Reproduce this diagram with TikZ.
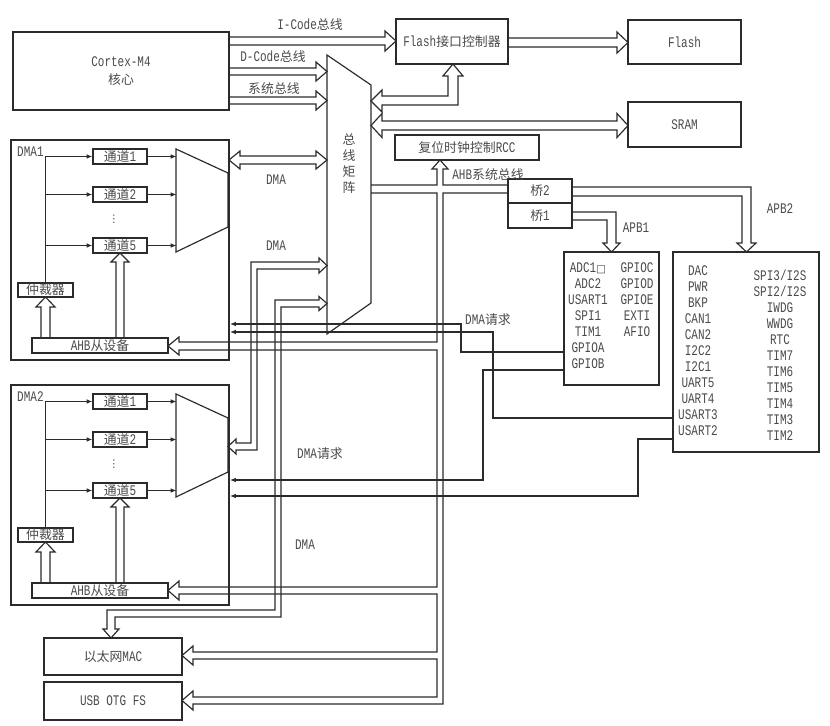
\documentclass[tikz,border=0pt]{standalone}
\usepackage{fontspec}
\setmainfont{Liberation Mono}[FakeStretch=0.75]
\newfontfamily\zh{Noto Sans CJK SC}
\newfontfamily\dv{DejaVu Sans}
\usetikzlibrary{arrows.meta}
\definecolor{lc}{HTML}{2B2B2B}
\definecolor{tc}{HTML}{4A4A4A}
\newcommand\z[1]{{\zh\fontsize{11}{13}\selectfont #1}}
\newcommand\rbox[6]{\node[box, minimum width={(#4-#2)*0.03cm}, minimum height={(#5-#3)*0.03cm}] (#1) at ({(#2+#4)/2},{(#3+#5)/2}) {#6};}
\begin{document}
\begin{tikzpicture}[x=0.03cm,y=-0.03cm,
 every node/.style={font=\fontsize{12.5}{13}\selectfont, text=tc},
 box/.style={draw=lc, line width=1pt, inner sep=0pt, align=center},
 bus/.style={draw=lc, line width=1pt, line join=miter},
 req/.style={draw=lc, line width=1pt, -{Latex[length=5pt,width=4pt]}},
 lbl/.style={inner sep=0pt},
 col/.style={inner sep=0pt, align=center, font=\fontsize{12.5}{13.66}\selectfont}]
\useasboundingbox (0,0) rectangle (830,726);

% ---------- main boxes ----------
\rbox{cortex}{13}{32}{229}{110}{Cortex-M4\\[3pt]\z{核心}}
\rbox{fic}{396}{19}{508}{64}{Flash\z{接口控制器}}
\rbox{flash}{628}{20}{741}{64}{Flash}
\rbox{sram}{628}{102}{741}{147}{SRAM}
\rbox{rcc}{395}{135}{539}{160}{\z{复位时钟控制}RCC}
\rbox{brtwo}{508}{179}{572}{203}{\z{桥}2}
\rbox{brone}{508}{203}{572}{228}{\z{桥}1}
\rbox{apbonebox}{564}{252}{659}{385}{}
\rbox{apbtwobox}{673}{252}{819}{452}{}
\rbox{mac}{44}{638}{182}{675}{\z{以太网}MAC}
\rbox{usb}{44}{682}{182}{720}{USB OTG FS}

% bus matrix
\draw[bus] (327,55) -- (371,85) -- (371,303) -- (327,334) -- cycle;
\node[col, font=\zh\fontsize{11}{13.66}\selectfont] (mtxt) at (349,164) {总\\线\\矩\\阵};

% ---------- peripheral lists ----------
\node[col] (aonel) at (588,316) {ADC1{\dv\fontsize{9}{9}\selectfont □}\\ADC2\\USART1\\SPI1\\TIM1\\GPIOA\\GPIOB};
\node[col] (aoner) at (637,300) {GPIOC\\GPIOD\\GPIOE\\EXTI\\AFIO};
\node[col] (atwol) at (698,351) {DAC\\PWR\\BKP\\CAN1\\CAN2\\I2C2\\I2C1\\UART5\\UART4\\USART3\\USART2};
\node[col] (atwor) at (780,355.5) {SPI3/I2S\\SPI2/I2S\\IWDG\\WWDG\\RTC\\TIM7\\TIM6\\TIM5\\TIM4\\TIM3\\TIM2};

% ---------- DMA controllers ----------
\foreach \o/\n in {0/1,245/2}{
 \begin{scope}[shift={(0,\o)}]
  \rbox{dma\n}{11}{140}{229}{360}{}
  \node[lbl, anchor=west] (dl\n) at (17,152) {DMA\n};
  \rbox{chA\n}{93}{149}{147}{164}{\z{通道}1}
  \rbox{chB\n}{93}{187}{147}{202}{\z{通道}2}
  \rbox{chC\n}{93}{238}{147}{253}{\z{通道}5}
  \node[lbl, font=\dv\fontsize{9}{9}\selectfont] (dots\n) at (114,219) {⋮};
  \rbox{arb\n}{18}{283}{73}{297}{\z{仲裁器}}
  \rbox{ahb\n}{32}{338}{168}{353}{AHB\z{从设备}}
  \draw[bus] (176,149) -- (228,173) -- (228,227) -- (176,252) -- cycle;
  \draw[req] (arb\n.north) |- (chA\n.west);
  \draw[req] (arb\n.north |- chB\n.west) -- (chB\n.west);
  \draw[req] (arb\n.north |- chC\n.west) -- (chC\n.west);
  \draw[req] (chA\n.east) -- ++(29,0);
  \draw[req] (chB\n.east) -- ++(29,0);
  \draw[req] (chC\n.east) -- ++(29,0);
  \draw[bus] (41,338) -- (41,307) -- (36,307) -- (45.5,297) -- (55,307) -- (50,307) -- (50,338);
  \draw[bus] (116,338) -- (116,262) -- (111,262) -- (120,253) -- (129,262) -- (124,262) -- (124,338);
 \end{scope}
}

% ---------- buses from the core ----------
\draw[bus] (229,37) -- (385,37) -- (385,31) -- (396,41) -- (385,51) -- (385,45) -- (229,45);
\draw[bus] (229,68) -- (316,68) -- (316,62) -- (327,71.5) -- (316,81) -- (316,75) -- (229,75);
\draw[bus] (229,97) -- (316,97) -- (316,91) -- (327,100.5) -- (316,110) -- (316,104) -- (229,104);
\node[lbl] (licode) at (310,25) {I-Code\z{总线}};
\node[lbl] (ldcode) at (273,57) {D-Code\z{总线}};
\node[lbl] (lsys) at (274,89) {\z{系统总线}};

% flash controller -> flash
\draw[bus] (508,38) -- (617,38) -- (617,32) -- (628,42.5) -- (617,53) -- (617,47) -- (508,47);
% matrix <-> flash controller
\draw[bus] (371,101) -- (382,90) -- (382,96) -- (448,96) -- (448,76) -- (443,76) -- (453,64) -- (463,76) -- (458,76) -- (458,105) -- (382,105) -- (382,112) -- cycle;
% matrix <-> SRAM
\draw[bus] (371,125.5) -- (382,113.5) -- (382,121) -- (617,121) -- (617,113.5) -- (628,125.5) -- (617,137.5) -- (617,130) -- (382,130) -- (382,137.5) -- cycle;

% DMA1 <-> matrix
\draw[bus] (229,160) -- (240,151) -- (240,156) -- (316,156) -- (316,151) -- (327,160) -- (316,169) -- (316,164) -- (240,164) -- (240,169) -- cycle;
% DMA2 <-> matrix
\draw[bus] (327,265.5) -- (319,258) -- (319,262) -- (251,262) -- (251,443) -- (236,443) -- (236,439) -- (228,446.5) -- (236,454) -- (236,450) -- (257,450) -- (257,269) -- (319,269) -- (319,273) -- cycle;
% MAC <-> matrix
\draw[bus] (327,303.5) -- (319,296.5) -- (319,300) -- (275,300) -- (275,610) -- (107,610) -- (107,629) -- (103,629) -- (111,638) -- (119,629) -- (115,629) -- (115,617) -- (281,617) -- (281,307) -- (319,307) -- (319,310.5) -- cycle;
\node[lbl] (ldmaa) at (276,180) {DMA};
\node[lbl] (ldmab) at (276,246) {DMA};
\node[lbl] (ldmac) at (305,545) {DMA};

% AHB system bus
\draw[bus] (371,185) -- (437,185) -- (437,169) -- (432,169) -- (440,160) -- (448,169) -- (443,169) -- (443,185) -- (508,185);
\draw[bus] (371,193) -- (437,193) -- (437,342) -- (179,342) -- (179,337) -- (168,346) -- (179,355) -- (179,350) -- (437,350) -- (437,587) -- (179,587) -- (179,581) -- (168,590.5) -- (179,600) -- (179,594) -- (437,594) -- (437,652) -- (193,652) -- (193,646) -- (182,655.5) -- (193,665) -- (193,659) -- (437,659) -- (437,697) -- (193,697) -- (193,691) -- (182,700.5) -- (193,710) -- (193,704) -- (443,704) -- (443,193) -- (508,193);
\node[lbl] (lahb) at (488,175) {AHB\z{系统总线}};

% bridges -> APB
\draw[bus] (572,187) -- (751,187) -- (751,243) -- (756,243) -- (746.5,252) -- (737,243) -- (742,243) -- (742,196) -- (572,196);
\draw[bus] (572,212) -- (616,212) -- (616,243) -- (620,243) -- (611.5,252) -- (603,243) -- (607,243) -- (607,220) -- (572,220);
\node[lbl] (lapbone) at (636,228) {APB1};
\node[lbl] (lapbtwo) at (780,209) {APB2};

% DMA requests
\draw[req] (apbonebox.west |- 0,352) -- (461,352) -- (461,324) -- (230,324);
\draw[req] (apbtwobox.west |- 0,418) -- (493,418) -- (493,332) -- (230,332);
\draw[req] (apbonebox.west |- 0,370) -- (483,370) -- (483,480) -- (230,480);
\draw[req] (apbtwobox.west |- 0,439) -- (638,439) -- (638,496) -- (230,496);
\node[lbl] (lreqa) at (488,320) {DMA\z{请求}};
\node[lbl] (lreqb) at (320,454) {DMA\z{请求}};
\end{tikzpicture}
\end{document}
